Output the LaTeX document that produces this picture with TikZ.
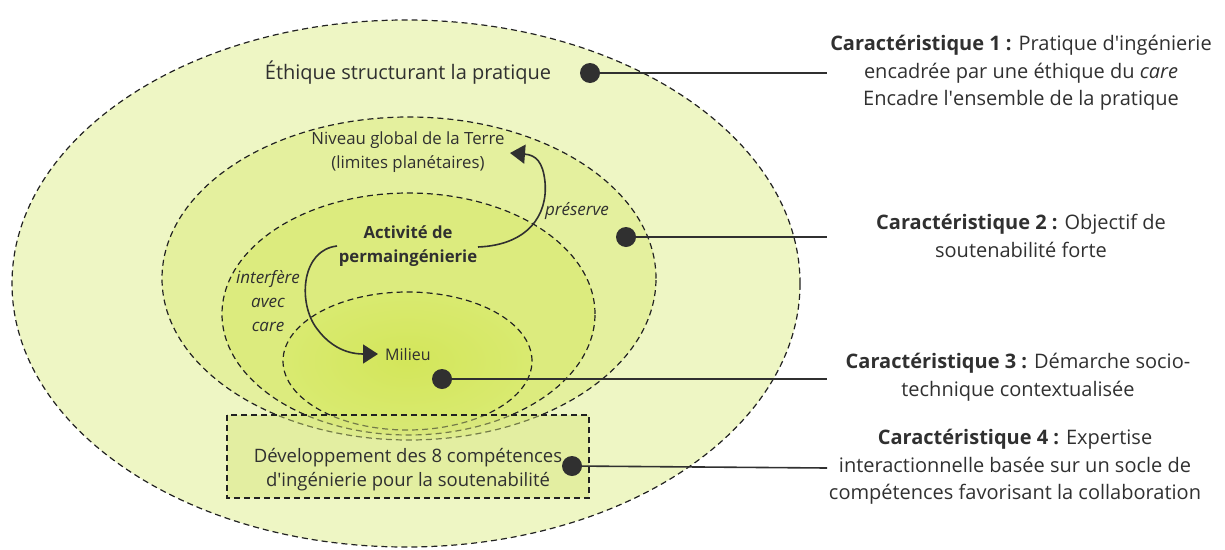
\documentclass[tikz,border=0pt]{standalone}
\usepackage{fontspec}
\setmainfont{Open Sans}
\usetikzlibrary{arrows.meta,shapes.geometric}
\definecolor{cOuter}{HTML}{EEF6C4}
\definecolor{cNiv}{HTML}{E4F09E}
\definecolor{cAct}{HTML}{DCEB7E}
\definecolor{cMilIn}{HTML}{D3E65A}
\definecolor{cMilOut}{HTML}{D9EA70}
\definecolor{cBox}{HTML}{D6E678}
\definecolor{ink}{HTML}{303030}
\definecolor{dashc}{HTML}{222222}
\newcommand{\apos}{\textquotesingle}
\tikzset{
  zone/.style={draw=dashc, line width=1.2pt, dash pattern=on 6pt off 4pt},
  dot/.style={circle, fill=ink, minimum size=20pt, inner sep=0pt},
  conn/.style={draw=ink, line width=1.6pt},
  flow/.style={draw=ink, line width=1.6pt, -{Triangle[length=15pt,width=19pt]}},
  txt/.style={text=ink, inner sep=0pt, align=center},
  body/.style={txt, font=\fontsize{20}{27.5}\selectfont},
}
\begin{document}
\begin{tikzpicture}[x=1pt,y=-1pt]
\useasboundingbox (0,0) rectangle (1225,549);
% zones
\draw[zone, fill=cOuter] (406,283.5) ellipse [x radius=394pt, y radius=263.5pt];
\draw[zone, fill=cNiv] (409,278.5) ellipse [x radius=247pt, y radius=161.5pt];
\draw[zone, fill=cAct] (408.5,314) ellipse [x radius=186.5pt, y radius=121pt];
\shade[inner color=cMilIn, outer color=cMilOut] (407.5,361) ellipse [x radius=124.5pt, y radius=69pt];
\draw[zone] (407.5,361) ellipse [x radius=124.5pt, y radius=69pt];
% box
\fill[cBox, opacity=0.45] (227,415) rectangle (589,498);
\draw[draw=dashc, line width=1.9pt, dash pattern=on 6pt off 4pt] (227,415) rectangle (589,498);

% texts inside
\node[txt, font=\fontsize{20}{24}\selectfont] (eth) at (408,73) {Éthique structurant la pratique};
\node[txt, font=\fontsize{16.8}{24}\selectfont] (niv) at (408,152) {Niveau global de la Terre\\(limites planétaires)};
\node[txt, font=\bfseries\fontsize{16.7}{24}\selectfont] (act) at (408,246) {Activité de\\permaingénierie};
\node[txt, font=\fontsize{16}{20}\selectfont, anchor=west] (mil) at (385,354) {Milieu};
\node[txt, font=\itshape\fontsize{17}{20}\selectfont] (pres) at (577,211) {préserve};
\node[txt, font=\itshape\fontsize{17}{24}\selectfont] (interf) at (268,301) {interfère\\avec\\care};
\node[txt, font=\fontsize{18.5}{24}\selectfont] (dev) at (408,470) {Développement des 8 compétences\\d\apos ingénierie pour la soutenabilité};

% arrows
\coordinate (s1) at (478,247);
\coordinate (t1) at (510,153);
\draw[flow] (s1) .. controls (528,245) and (548,215) .. (545,182) .. controls (543,162) and (536,155) .. (t1);
\coordinate (s2) at (337,246);
\coordinate (t2) at (378,354);
\draw[flow] (s2) .. controls (302,250) and (298,300) .. (315,326) .. controls (328,345) and (345,354) .. (t2);

% dots and leaders
\node[dot] (d1) at (590,73) {};
\node[dot] (d2) at (626,237) {};
\node[dot] (d3) at (442,379) {};
\node[dot] (d4) at (572,466) {};
\coordinate (e1) at (827,73);
\coordinate (e2) at (827,237);
\coordinate (e3) at (827,379);
\coordinate (e4) at (827,468);
\draw[conn] (d1) -- (e1);
\draw[conn] (d2) -- (e2);
\draw[conn] (d3) -- (e3);
\draw[conn] (d4) -- (e4);

% right column
\node[body] (c1) at (1021,73) {\textbf{Caractéristique 1 :} Pratique d\apos ingénierie\\encadrée par une éthique du \textit{care}\\Encadre l\apos ensemble de la pratique};
\node[body] (c2) at (1021,236) {\textbf{Caractéristique 2 :} Objectif de\\soutenabilité forte};
\node[body] (c3) at (1018,377) {\textbf{Caractéristique 3 :} Démarche socio-\\technique contextualisée};
\node[body] (c4) at (1015,467) {\textbf{Caractéristique 4 :} Expertise\\interactionnelle basée sur un socle de\\compétences favorisant la collaboration};
\end{tikzpicture}
\end{document}
